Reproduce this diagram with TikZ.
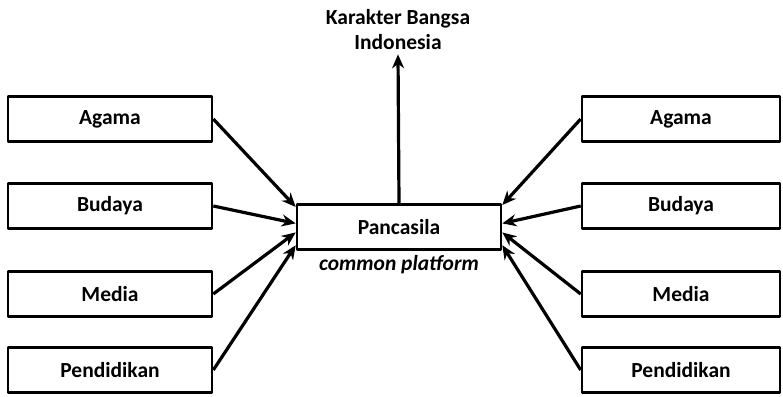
\documentclass[tikz,border=0pt]{standalone}
\usepackage{fontspec}
\setmainfont{Carlito}
\usetikzlibrary{arrows.meta}
\begin{document}
\begin{tikzpicture}[x=1pt, y=-1pt, line join=round, >={Stealth[length=14pt,width=12pt]},
	font=\bfseries\fontsize{21.5}{25}\selectfont,
	box/.style={draw, line width=2.6pt, minimum width=204pt, minimum height=45pt, inner sep=0pt}]
	\useasboundingbox (0,0) rectangle (783,396);
	\node[box] (pc) at (399,227) {Pancasila};
	\node[font=\bfseries\itshape\fontsize{21.5}{25}\selectfont] (cp) at (399,265) {common platform};
	\node[align=center, inner sep=4pt] (kb) at (398,30) {Karakter Bangsa\\Indonesia};
	\draw[->, line width=3.2pt] (pc.north) -- (kb.south);
	\foreach \n/\t/\y/\a/\b in {ag/Agama/119/169/12, bu/Budaya/206/178/2, me/Media/294/183/357, pe/Pendidikan/370/190/350} {
		\node[box] (l\n) at (110,\y) {\t};
		\node[box, minimum width=198pt] (r\n) at (681,\y) {\t};
		\draw[->, line width=3.2pt] (l\n.east) -- (pc.\a);
		\draw[->, line width=3.2pt] (r\n.west) -- (pc.\b);
	}
\end{tikzpicture}
\end{document}
